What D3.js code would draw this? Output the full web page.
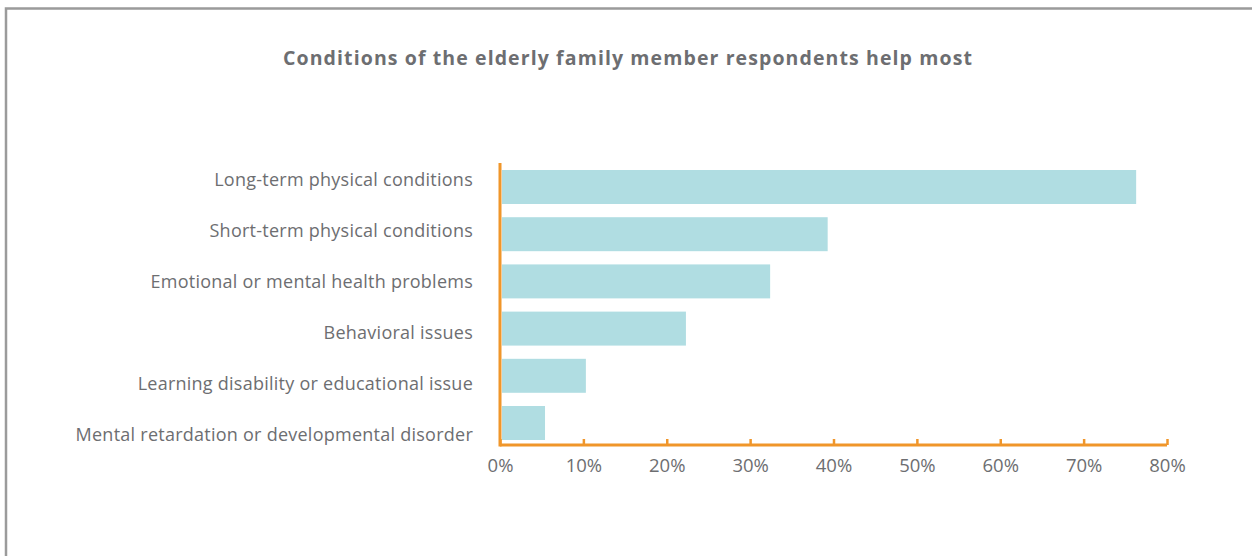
<!DOCTYPE html>
<html>
<head>
<meta charset="utf-8">
<script src="https://cdn.jsdelivr.net/npm/d3@7"></script>
<style>
  body { margin: 0; background: #fff; }
  svg { display: block; }
</style>
</head>
<body>
<svg></svg>
<script>
var categories = ["Long-term physical conditions",
                  "Short-term physical conditions",
                  "Emotional or mental health problems",
                  "Behavioral issues",
                  "Learning disability or educational issue",
                  "Mental retardation or developmental disorder"];
var shares = [0.763, 0.393, 0.324, 0.223, 0.103, 0.054];
var tickValues = [0, 0.1, 0.2, 0.3, 0.4, 0.5, 0.6, 0.7, 0.8];
var chartTitle = "Conditions of the elderly family member respondents help most";

var w = 1252, h = 556;
var textColor = "#6d6e71",
    axisColor = "#f0962a",
    barColor = "#b0dde2",
    font = "'Open Sans', sans-serif";

var svg = d3.select("svg")
  .attr("width", w)
  .attr("height", h);

// frame (only top + left edges are visible in the picture)
svg.append("path")
  .attr("d", "M6,556 L6,8.5 L1252,8.5")
  .attr("fill", "none")
  .attr("stroke", "#9b9b9b")
  .attr("stroke-width", 2.5);

svg.append("text")
  .attr("x", 628)
  .attr("y", 65)
  .attr("text-anchor", "middle")
  .attr("font-family", font)
  .attr("font-weight", "bold")
  .attr("font-size", 19.5)
  .attr("letter-spacing", 1.1)
  .attr("fill", textColor)
  .text(chartTitle);

var x = d3.scaleLinear().domain([0, 0.8]).range([500, 1167]);
var y = d3.scaleBand().domain(categories).range([163.4, 446.6])
  .paddingInner(0.28).paddingOuter(0.14);
// labels sit on a slightly wider spacing than the bars
var yLabel = d3.scaleBand().domain(categories).range([154.5, 460.5]);

svg.selectAll("rect.bar")
  .data(categories)
  .enter()
  .append("rect")
  .attr("class", "bar")
  .attr("x", x(0) + 2)
  .attr("y", function(d) { return y(d); })
  .attr("width", function(d, i) { return x(shares[i]) - x(0) - 2; })
  .attr("height", y.bandwidth())
  .attr("fill", barColor);

svg.selectAll("text.cat")
  .data(categories)
  .enter()
  .append("text")
  .attr("class", "cat")
  .attr("x", 473)
  .attr("y", function(d) { return yLabel(d) + yLabel.bandwidth() / 2; })
  .attr("dy", "0.35em")
  .attr("text-anchor", "end")
  .attr("font-family", font)
  .attr("font-size", 18)
  .attr("letter-spacing", 0.25)
  .attr("fill", textColor)
  .text(function(d) { return d; });

// bottom axis, ticks pointing up
var xAxis = d3.axisBottom(x)
  .tickValues(tickValues)
  .tickFormat(d3.format(".0%"))
  .tickSize(-6)
  .tickPadding(14);

var axisG = svg.append("g")
  .attr("transform", "translate(0,445)")
  .call(xAxis);
axisG.select(".domain").remove();
axisG.selectAll(".tick line")
  .attr("stroke", axisColor)
  .attr("stroke-width", 2.5);
axisG.selectAll(".tick text")
  .attr("fill", textColor)
  .attr("font-family", font)
  .attr("font-size", 18.5);

svg.append("line")
  .attr("x1", x(0)).attr("x2", x(0.8))
  .attr("y1", 445).attr("y2", 445)
  .attr("stroke", axisColor)
  .attr("stroke-width", 3);

svg.append("line")
  .attr("x1", x(0)).attr("x2", x(0))
  .attr("y1", 163).attr("y2", 446.5)
  .attr("stroke", axisColor)
  .attr("stroke-width", 3);
</script>
</body>
</html>
